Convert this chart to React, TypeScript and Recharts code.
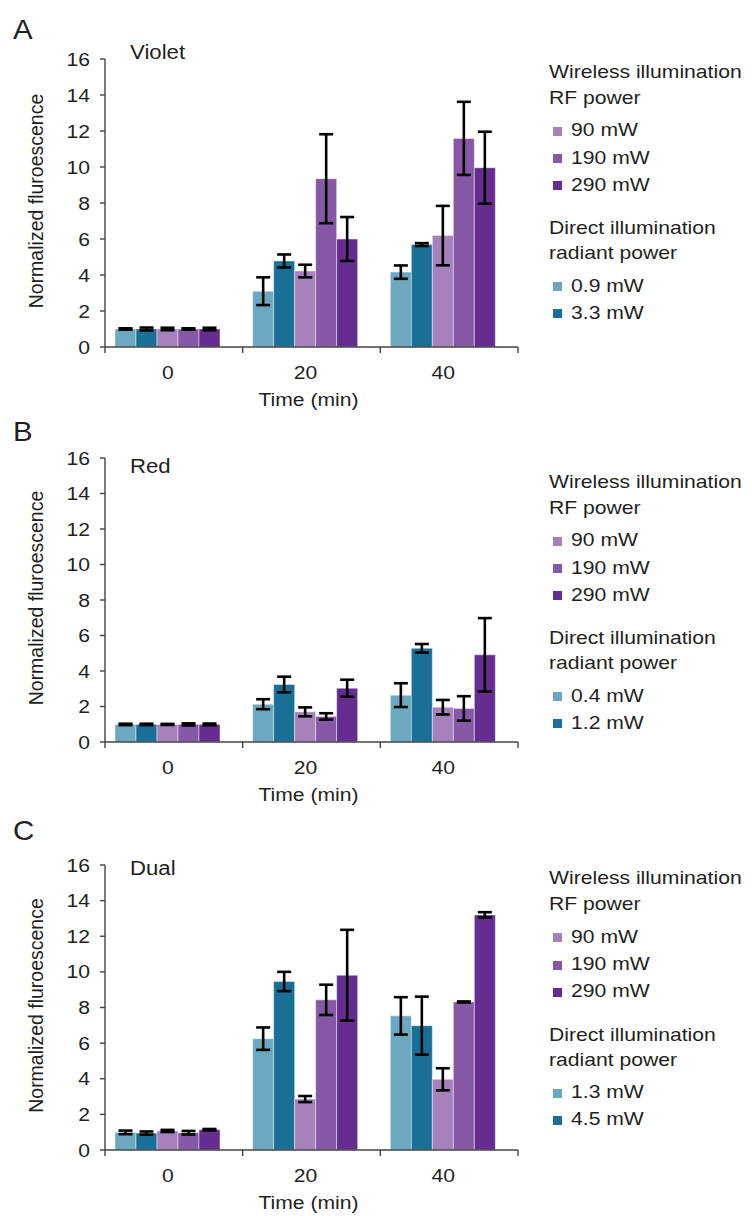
import { BarChart, Bar, XAxis, YAxis, ErrorBar } from 'recharts';

const times = ['0', '20', '40'];
const yTicks = [0, 2, 4, 6, 8, 10, 12, 14, 16];
const rfLabels = ['90 mW', '190 mW', '290 mW'];

// A - violet
const violetLow = [1.0, 3.1, 4.16];
const violetLowErr = [0.04, 0.77, 0.37];
const violetHigh = [1.0, 4.78, 5.69];
const violetHighErr = [0.08, 0.36, 0.08];
const violet90 = [1.0, 4.22, 6.19];
const violet90Err = [0.07, 0.35, 1.65];
const violet190 = [1.0, 9.35, 11.59];
const violet190Err = [0.04, 2.47, 2.03];
const violet290 = [1.0, 6.0, 9.96];
const violet290Err = [0.07, 1.22, 2.0];
const violetDirect = ['0.9 mW', '3.3 mW'];

// B - red
const redLow = [0.99, 2.13, 2.64];
const redLowErr = [0.04, 0.28, 0.67];
const redHigh = [0.99, 3.24, 5.28];
const redHighErr = [0.04, 0.44, 0.24];
const red90 = [0.99, 1.7, 1.96];
const red90Err = [0.03, 0.25, 0.41];
const red190 = [0.99, 1.44, 1.89];
const red190Err = [0.06, 0.18, 0.69];
const red290 = [0.99, 3.03, 4.91];
const red290Err = [0.05, 0.48, 2.07];
const redDirect = ['0.4 mW', '1.2 mW'];

// C - dual
const dualLow = [0.99, 6.25, 7.53];
const dualLowErr = [0.1, 0.63, 1.05];
const dualHigh = [0.95, 9.46, 6.98];
const dualHighErr = [0.09, 0.54, 1.63];
const dual90 = [1.07, 2.86, 3.97];
const dual90Err = [0.06, 0.17, 0.62];
const dual190 = [0.97, 8.43, 8.31];
const dual190Err = [0.1, 0.85, 0.03];
const dual290 = [1.14, 9.81, 13.2];
const dual290Err = [0.04, 2.55, 0.15];
const dualDirect = ['1.3 mW', '4.5 mW'];

const KEYS = ['low', 'high', 'rf90', 'rf190', 'rf290'];
const COLORS: Record<string, string> = {
  low: '#6ca8c0',
  high: '#1a6f97',
  rf90: '#a681bc',
  rf190: '#8658a6',
  rf290: '#642d8f',
};

const FONT = '"Liberation Sans", Arial, sans-serif';
const INK = '#231f20';
const FS = 18.6;
const SX = 1.137;
const PLOT_W = 413;
const BAND = PLOT_W / 3;

function buildRows(vals: number[][], errs: number[][]) {
  return times.map((t, i) => {
    const row: Record<string, number | string> = { time: t };
    KEYS.forEach((k, j) => {
      row[k] = vals[j][i];
      row[k + 'Err'] = errs[j][i];
    });
    return row;
  });
}

function SText({ x, y, anchor = 'middle', size = FS, children }: any) {
  return (
    <text
      transform={`translate(${x},${y}) scale(${SX},1)`}
      textAnchor={anchor}
      fontSize={size}
      fontFamily={FONT}
      fill={INK}
    >
      {children}
    </text>
  );
}

const YTick = ({ x, y, payload }: any) => (
  <SText x={x} y={y + 6.6} anchor="end">
    {payload.value}
  </SText>
);

const XTick = ({ x, y, payload, index }: any) => {
  const left = x - BAND / 2 + 6;
  return (
    <g>
      <line x1={left} x2={left} y1={y} y2={y + 6} stroke="#444" strokeWidth={1.4} />
      {index === times.length - 1 && (
        <line x1={x + BAND / 2 + 6} x2={x + BAND / 2 + 6} y1={y} y2={y + 6} stroke="#444" strokeWidth={1.4} />
      )}
      <SText x={x} y={y + 31.7}>
        {payload.value}
      </SText>
    </g>
  );
};

function Panel({ rows, plotTop, plotH, letter, letterY, title, titleY, legendY, direct }: any) {
  const top = plotTop - 10;
  const legendRows = [
    { dy: 0, text: 'Wireless illumination' },
    { dy: 26, text: 'RF power' },
    { dy: 58.3, text: rfLabels[0], color: COLORS.rf90 },
    { dy: 86, text: rfLabels[1], color: COLORS.rf190 },
    { dy: 113, text: rfLabels[2], color: COLORS.rf290 },
    { dy: 156.5, text: 'Direct illumination' },
    { dy: 181.5, text: 'radiant power' },
    { dy: 214, text: direct[0], color: COLORS.low },
    { dy: 241, text: direct[1], color: COLORS.high },
  ];
  return (
    <>
      <div style={{ position: 'absolute', left: 0, top }}>
        <BarChart
          width={752}
          height={10 + plotH + 70}
          data={rows}
          margin={{ top: 10, right: 234, bottom: 0, left: 0 }}
          barCategoryGap={16}
          barGap={0}
        >
          <XAxis
            dataKey="time"
            height={70}
            padding={{ left: -6, right: 6 }}
            tickLine={false}
            tickSize={0}
            tickMargin={0}
            tick={<XTick />}
            axisLine={{ stroke: '#444', strokeWidth: 1.4 }}
            label={{
              content: ({ viewBox }: any) => (
                <SText x={viewBox.x + viewBox.width / 2 - 3} y={viewBox.y + 59}>
                  Time (min)
                </SText>
              ),
            }}
          />
          <YAxis
            width={105}
            domain={[0, 16]}
            ticks={yTicks}
            interval={0}
            tickSize={5}
            tickMargin={10}
            tick={<YTick />}
            tickLine={{ stroke: '#444', strokeWidth: 1.4 }}
            axisLine={{ stroke: '#444', strokeWidth: 1.4 }}
            label={{
              content: ({ viewBox }: any) => (
                <text
                  transform={`translate(43,${viewBox.y + viewBox.height / 2 - 2}) rotate(-90)`}
                  textAnchor="middle"
                  fontSize={19.5}
                  fontFamily={FONT}
                  fill={INK}
                >
                  Normalized fluroescence
                </text>
              ),
            }}
          />
          {KEYS.map((k) => (
            <Bar
              key={k}
              dataKey={k}
              fill={COLORS[k]}
              stroke="rgba(255,255,255,0.55)"
              strokeWidth={0.8}
              isAnimationActive={false}
            >
              <ErrorBar
                dataKey={k + 'Err'}
                width={7}
                stroke="#000"
                strokeWidth={2.6}
                direction="y"
                isAnimationActive={false}
              />
            </Bar>
          ))}
        </BarChart>
      </div>
      <div
        style={{
          position: 'absolute',
          left: 13,
          top: letterY - 16,
          fontSize: 28,
          lineHeight: '32px',
          fontFamily: FONT,
          color: INK,
          transform: 'scaleX(1.05)',
          transformOrigin: 'left',
        }}
      >
        {letter}
      </div>
      <div
        style={{
          position: 'absolute',
          left: 130,
          top: titleY - 12,
          fontSize: 19.5,
          lineHeight: '24px',
          fontFamily: FONT,
          color: INK,
          transform: `scaleX(${SX})`,
          transformOrigin: 'left',
        }}
      >
        {title}
      </div>
      {legendRows.map((r) => (
        <div key={r.text}>
          {r.color && (
            <div
              style={{
                position: 'absolute',
                left: 553,
                top: legendY + r.dy - 3.5,
                width: 9,
                height: 9,
                background: r.color,
              }}
            />
          )}
          <div
            style={{
              position: 'absolute',
              left: r.color ? 571 : 549,
              top: legendY + r.dy - 11,
              fontSize: FS,
              lineHeight: '22px',
              fontFamily: FONT,
              color: INK,
              whiteSpace: 'nowrap',
              transform: `scaleX(${SX})`,
              transformOrigin: 'left',
            }}
          >
            {r.text}
          </div>
        </div>
      ))}
    </>
  );
}

const violetRows = buildRows(
  [violetLow, violetHigh, violet90, violet190, violet290],
  [violetLowErr, violetHighErr, violet90Err, violet190Err, violet290Err]
);
const redRows = buildRows(
  [redLow, redHigh, red90, red190, red290],
  [redLowErr, redHighErr, red90Err, red190Err, red290Err]
);
const dualRows = buildRows(
  [dualLow, dualHigh, dual90, dual190, dual290],
  [dualLowErr, dualHighErr, dual90Err, dual190Err, dual290Err]
);

export default function App() {
  return (
    <div
      style={{
        position: 'absolute',
        left: 0,
        top: 0,
        width: 752,
        height: 1216,
        background: '#fff',
        overflow: 'hidden',
      }}
    >
      <Panel
        rows={violetRows}
        plotTop={59.3}
        plotH={288}
        letter="A"
        letterY={30}
        title="Violet"
        titleY={52}
        legendY={71.7}
        direct={violetDirect}
      />
      <Panel
        rows={redRows}
        plotTop={458.3}
        plotH={284}
        letter="B"
        letterY={431.5}
        title="Red"
        titleY={466}
        legendY={481.7}
        direct={redDirect}
      />
      <Panel
        rows={dualRows}
        plotTop={864.5}
        plotH={285}
        letter="C"
        letterY={831}
        title="Dual"
        titleY={867.5}
        legendY={878.3}
        direct={dualDirect}
      />
    </div>
  );
}
